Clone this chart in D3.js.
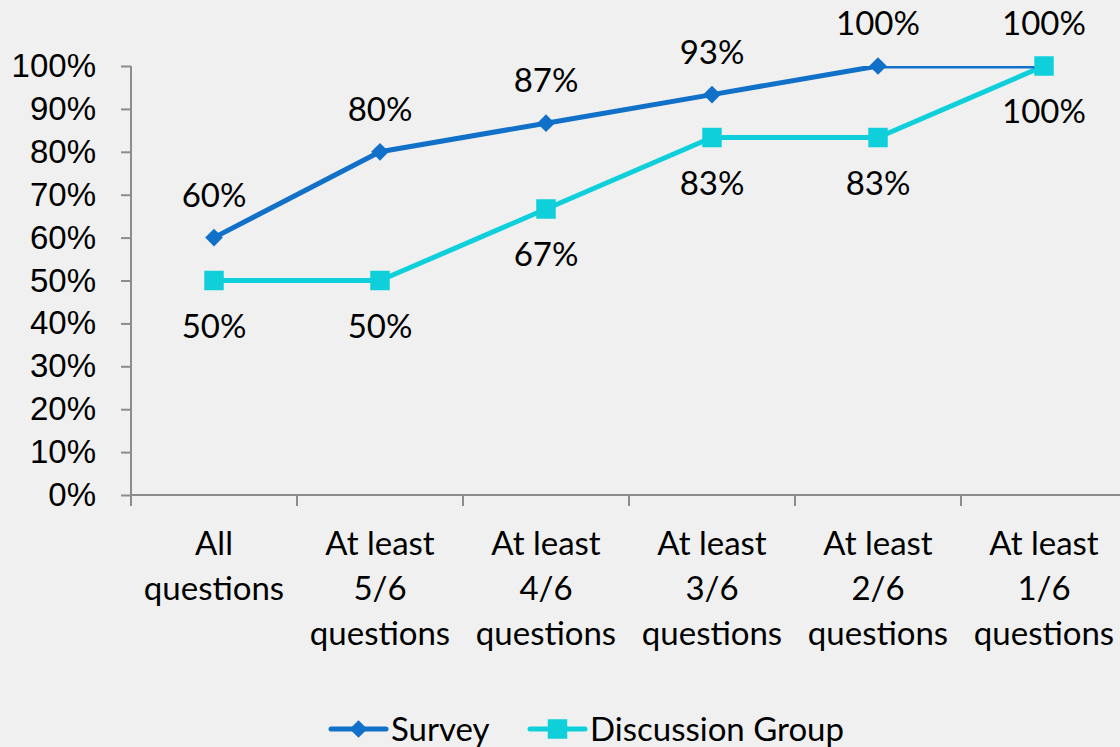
<!DOCTYPE html>
<html>
<head>
<meta charset="utf-8">
<script src="https://cdn.jsdelivr.net/npm/d3@7"></script>
<style>
	body { margin: 0; background: #f0f0f0; }
	svg { display: block; font-family: Lato, "Open Sans", sans-serif; }
</style>
</head>
<body>
<div id="chart"></div>
<script>
var categories = [
	["All", "questions"],
	["At least", "5/6", "questions"],
	["At least", "4/6", "questions"],
	["At least", "3/6", "questions"],
	["At least", "2/6", "questions"],
	["At least", "1/6", "questions"]
];
var surveyValues = [0.60, 0.80, 0.8667, 0.9333, 1.00, 1.00];
var surveyLabels = ["60%", "80%", "87%", "93%", "100%", "100%"];
var groupValues = [0.50, 0.50, 0.6667, 0.8333, 0.8333, 1.00];
var groupLabels = ["50%", "50%", "67%", "83%", "83%", "100%"];
var yTicks = [0, 0.1, 0.2, 0.3, 0.4, 0.5, 0.6, 0.7, 0.8, 0.9, 1.0];
var seriesNames = ["Survey", "Discussion Group"];

var W = 1120, H = 747,
	margin = {top: 66, right: -7, bottom: 252, left: 131},
	width = W - margin.left - margin.right,
	height = H - margin.top - margin.bottom,
	fs = 33;

var colSurvey = "#1170c8", colGroup = "#0fd0da", axisCol = "#8c8c8c";

var svg = d3.select("#chart").append("svg").attr("width", W).attr("height", H);
var g = svg.append("g").attr("transform", "translate(" + margin.left + "," + margin.top + ")");

var x = d3.scaleBand().domain(d3.range(categories.length)).range([0, width]);
var y = d3.scaleLinear().domain([0, 1]).range([height, 0]);

// y axis
var yAxis = g.append("g")
	.call(d3.axisLeft(y).tickValues(yTicks).tickFormat(d3.format(".0%")).tickSize(10).tickPadding(25));
yAxis.selectAll("line").attr("stroke", axisCol).attr("stroke-width", 2);
yAxis.select(".domain").attr("stroke", axisCol).attr("stroke-width", 2).attr("d", "M0," + height + "V0");
yAxis.selectAll("text").attr("font-size", fs).attr("fill", "#000").attr("font-family", null);

// x axis
var xAxis = g.append("g").attr("transform", "translate(0," + height + ")");
xAxis.append("line").attr("x1", 0).attr("x2", width).attr("stroke", axisCol).attr("stroke-width", 2);
xAxis.selectAll(".tk").data(d3.range(categories.length)).join("line")
	.attr("x1", function (i) { return x(i); }).attr("x2", function (i) { return x(i); })
	.attr("y1", 0).attr("y2", 11).attr("stroke", axisCol).attr("stroke-width", 2);
xAxis.selectAll(".lbl").data(categories).join("text")
	.attr("text-anchor", "middle").attr("font-size", fs)
	.attr("transform", function (d, i) { return "translate(" + (x(i) + x.bandwidth() / 2) + ",0)"; })
	.each(function (d) {
		var t = d3.select(this);
		d.forEach(function (line, k) {
			t.append("tspan").attr("x", 0).attr("y", 60 + k * 45).text(line);
		});
	});

// lines clipped to plot area
svg.append("clipPath").attr("id", "plot")
	.append("rect").attr("x", 0).attr("y", 0).attr("width", width).attr("height", height);

var line = d3.line()
	.x(function (d, i) { return x(i) + x.bandwidth() / 2; })
	.y(function (d) { return y(d); });

g.append("path").datum(groupValues).attr("clip-path", "url(#plot)")
	.attr("fill", "none").attr("stroke", colGroup).attr("stroke-width", 5)
	.attr("stroke-linejoin", "round").attr("d", line);
g.append("path").datum(surveyValues).attr("clip-path", "url(#plot)")
	.attr("fill", "none").attr("stroke", colSurvey).attr("stroke-width", 5)
	.attr("stroke-linejoin", "round").attr("d", line);

var diamond = d3.symbol().type(d3.symbolDiamond2).size(200);
var square = d3.symbol().type(d3.symbolSquare).size(380);

g.selectAll(".sm").data(surveyValues).join("path")
	.attr("transform", function (d, i) { return "translate(" + (x(i) + x.bandwidth() / 2) + "," + y(d) + ")"; })
	.attr("d", diamond).attr("fill", colSurvey);
g.selectAll(".gm").data(groupValues).join("path")
	.attr("transform", function (d, i) { return "translate(" + (x(i) + x.bandwidth() / 2) + "," + y(d) + ")"; })
	.attr("d", square).attr("fill", colGroup);

// data labels
g.selectAll(".sl").data(surveyValues).join("text")
	.attr("x", function (d, i) { return x(i) + x.bandwidth() / 2; })
	.attr("y", function (d) { return y(d) - 31; })
	.attr("text-anchor", "middle").attr("font-size", fs)
	.text(function (d, i) { return surveyLabels[i]; });
g.selectAll(".gl").data(groupValues).join("text")
	.attr("x", function (d, i) { return x(i) + x.bandwidth() / 2; })
	.attr("y", function (d) { return y(d) + 57; })
	.attr("text-anchor", "middle").attr("font-size", fs)
	.text(function (d, i) { return groupLabels[i]; });

// legend
var legend = svg.append("g").attr("transform", "translate(0,729)");
var legItems = [
	{name: seriesNames[0], color: colSurvey, sym: diamond, x0: 331},
	{name: seriesNames[1], color: colGroup, sym: square, x0: 530}
];
legItems.forEach(function (it) {
	var lg = legend.append("g").attr("transform", "translate(" + it.x0 + ",0)");
	lg.append("line").attr("x1", 0).attr("x2", 55).attr("stroke", it.color)
		.attr("stroke-width", 5).attr("stroke-linecap", "round");
	lg.append("path").attr("transform", "translate(27.5,0)").attr("d", it.sym).attr("fill", it.color);
	lg.append("text").attr("x", 60).attr("y", 12).attr("font-size", fs).text(it.name);
});
</script>
</body>
</html>
